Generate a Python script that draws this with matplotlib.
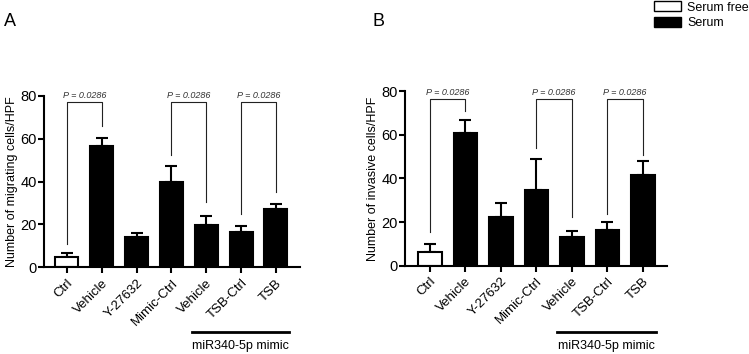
import matplotlib
matplotlib.use("Agg")
import matplotlib.pyplot as plt
import matplotlib.transforms as mtransforms
from matplotlib.patches import Patch
import numpy as np

plt.rcParams["font.family"] = ["Liberation Sans", "DejaVu Sans"]

groups = ["Ctrl", "Vehicle", "Y-27632", "Mimic-Ctrl", "Vehicle", "TSB-Ctrl", "TSB"]
serum_free = [True, False, False, False, False, False, False]

# panel A: migration
mig_mean = [5.0, 56.6, 14.3, 40.0, 19.8, 16.6, 27.2]
mig_err = [1.8, 3.7, 1.6, 7.5, 4.3, 2.8, 2.4]
mig_pairs = [(0, 1), (3, 4), (5, 6)]
mig_legs = [(11.0, 66.0), (52.5, 30.5), (24.9, 35.0)]
mig_bracket_y = 77.2

# panel B: invasion
inv_mean = [6.4, 61.0, 22.2, 34.7, 13.3, 16.5, 41.7]
inv_err = [3.4, 5.5, 6.7, 14.0, 2.8, 3.5, 6.3]
inv_pairs = [(0, 1), (3, 4), (5, 6)]
inv_legs = [(15.6, 71.0), (53.8, 22.5), (23.6, 50.8)]
inv_bracket_y = 76.3

p_label = "P = 0.0286"
yticks = [0, 20, 40, 60, 80]
mimic_span = (3.58, 6.37)


def draw_panel(ax, means, errs, pairs, legs, top, ylabel, xlim):
    x = np.arange(len(groups))
    colors = ["white" if f else "black" for f in serum_free]
    ax.errorbar(x, means, yerr=[np.zeros(len(x)), errs], fmt="none",
                ecolor="black", elinewidth=1.5, capsize=4, capthick=1.5, zorder=1)
    ax.bar(x, means, width=0.66, color=colors, edgecolor="black", linewidth=1.5, zorder=2)

    for (i, j), (li, lj) in zip(pairs, legs):
        ax.plot([i, i, j, j], [li, top, top, lj], color="#222222", lw=0.8,
                clip_on=False, zorder=3)
        ax.text((i + j) / 2, top + 1.0, p_label, ha="center", va="bottom",
                fontsize=6.5, style="italic", color="#333333")

    ax.set_xlim(*xlim)
    ax.set_ylim(0, 80)
    ax.set_yticks(yticks)
    ax.set_xticks(x)
    ax.set_xticklabels(groups, rotation=45, ha="right", rotation_mode="anchor",
                       fontsize=9.5)
    ax.tick_params(axis="y", labelsize=10.5, width=1.5, length=4, pad=1)
    ax.tick_params(axis="x", width=1.5, length=4, pad=3)
    ax.set_ylabel(ylabel, fontsize=9, labelpad=2)
    for s in ("top", "right"):
        ax.spines[s].set_visible(False)
    for s in ("left", "bottom"):
        ax.spines[s].set_linewidth(1.5)

    # miR340-5p mimic bar below the labels
    trans = mtransforms.blended_transform_factory(ax.transData, ax.figure.transFigure)
    ax.plot(list(mimic_span), [0.061, 0.061], color="black", lw=2, transform=trans,
            clip_on=False)
    ax.text(sum(mimic_span) / 2, 0.022, "miR340-5p mimic", transform=trans,
            ha="center", va="center", fontsize=9)


fig = plt.figure(figsize=(7.49, 3.54), dpi=100)
axA = fig.add_axes([0.0587, 0.245, 0.3418, 0.484])
axB = fig.add_axes([0.5407, 0.2494, 0.3498, 0.4935])

draw_panel(axA, mig_mean, mig_err, mig_pairs, mig_legs, mig_bracket_y,
           "Number of migrating cells/HPF", (-0.66, 6.69))
draw_panel(axB, inv_mean, inv_err, inv_pairs, inv_legs, inv_bracket_y,
           "Number of invasive cells/HPF", (-0.70, 6.68))

fig.text(0.005, 0.94, "A", fontsize=13, ha="left", va="center")
fig.text(0.497, 0.94, "B", fontsize=13, ha="left", va="center")

handles = [Patch(facecolor="white", edgecolor="black", linewidth=1),
           Patch(facecolor="black", edgecolor="black", linewidth=1)]
fig.legend(handles, ["Serum free", "Serum"], loc="upper left",
           bbox_to_anchor=(0.866, 1.01), frameon=False, fontsize=9,
           handlelength=2.2, handleheight=0.8, labelspacing=0.3,
           handletextpad=0.5, borderaxespad=0)

fig.savefig("out.png", dpi=100)
